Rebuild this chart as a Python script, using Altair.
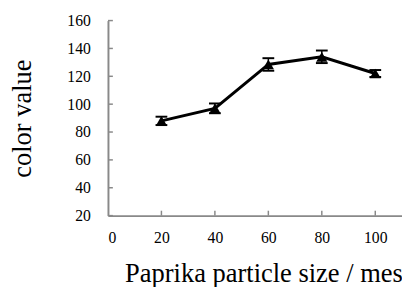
import altair as alt
import pandas as pd

# Data
sizes = [20, 40, 60, 80, 100]
color_values = [88, 97, 128.5, 134, 122]
errors = [3, 3.5, 4.5, 4.5, 2.5]

x_ticks = [20, 40, 60, 80, 100]
x_labels = [0, 20, 40, 60, 80, 100]
y_ticks = [20, 40, 60, 80, 100, 120, 140, 160]

df = pd.DataFrame({"size": sizes, "value": color_values, "err": errors})
df["lo"] = df["value"] - df["err"]
df["hi"] = df["value"] + df["err"]

W, H = 300, 199
AX = "#898989"
FONT = "Liberation Serif"

xs = alt.Scale(domain=[0, 110], nice=False, zero=False)
ys = alt.Scale(domain=[20, 160], nice=False, zero=False)

xaxis = alt.Axis(
    values=x_labels, ticks=False, grid=False, labelOverlap=False,
    domainColor=AX, domainWidth=2,
    labelFont=FONT, labelFontSize=16, labelColor="black", labelPadding=14,
    title="Paprika particle size / mesh", titleFont=FONT, titleFontSize=27,
    titleFontWeight="normal", titleColor="black",
    titleAlign="left", titleBaseline="alphabetic", titleX=17, titleY=67,
)
yaxis = alt.Axis(
    values=y_ticks, ticks=False, grid=False, labelOverlap=False,
    domainColor=AX, domainWidth=2,
    labelFont=FONT, labelFontSize=16, labelColor="black", labelPadding=18,
    title="color value", titleFont=FONT, titleFontSize=27,
    titleFontWeight="normal", titleColor="black",
    titleAngle=270, titleAlign="center", titleBaseline="alphabetic",
    titleX=-79, titleY=H / 2,
)

XT = "Paprika particle size / mesh"
YT = "color value"

base = alt.Chart(df)

line = base.mark_line(color="black", strokeWidth=3).encode(
    x=alt.X("size:Q", scale=xs, axis=xaxis, title=XT),
    y=alt.Y("value:Q", scale=ys, axis=yaxis, title=YT),
)
err = base.mark_rule(color="black", strokeWidth=1.5).encode(
    x=alt.X("size:Q", scale=xs, axis=xaxis, title=XT),
    y=alt.Y("lo:Q", scale=ys, axis=yaxis, title=YT), y2="hi:Q"
)
cap_hi = base.mark_tick(orient="horizontal", color="black", size=12, thickness=2, opacity=1).encode(
    x=alt.X("size:Q", scale=xs, axis=xaxis, title=XT),
    y=alt.Y("hi:Q", scale=ys, axis=yaxis, title=YT)
)
cap_lo = base.mark_tick(orient="horizontal", color="black", size=12, thickness=2, opacity=1).encode(
    x=alt.X("size:Q", scale=xs, axis=xaxis, title=XT),
    y=alt.Y("lo:Q", scale=ys, axis=yaxis, title=YT)
)
pts = base.mark_point(shape="triangle-up", filled=True, color="black", size=130, opacity=1).encode(
    x=alt.X("size:Q", scale=xs, axis=xaxis, title=XT),
    y=alt.Y("value:Q", scale=ys, axis=yaxis, title=YT)
)

xt = alt.Chart(pd.DataFrame({"t": x_ticks})).mark_rule(color=AX, strokeWidth=1.5).encode(
    x=alt.X("t:Q", scale=xs, axis=xaxis, title=XT), y=alt.value(H), y2=alt.value(H - 5)
)
yt = alt.Chart(pd.DataFrame({"t": y_ticks})).mark_rule(color=AX, strokeWidth=1.5).encode(
    y=alt.Y("t:Q", scale=ys, axis=yaxis, title=YT), x=alt.value(0), x2=alt.value(5)
)

chart = alt.layer(line, xt, yt, err, cap_hi, cap_lo, pts).properties(
    width=W, height=H,
    background="white",
    autosize=alt.AutoSizeParams(type="none"),
    padding={"left": 102, "top": 10, "right": 0, "bottom": 70},
).configure_view(stroke=None).configure_axis(
    labelFont=FONT, titleFont=FONT
)

chart.save("out.html", embed_options={"renderer": "svg", "actions": False})
